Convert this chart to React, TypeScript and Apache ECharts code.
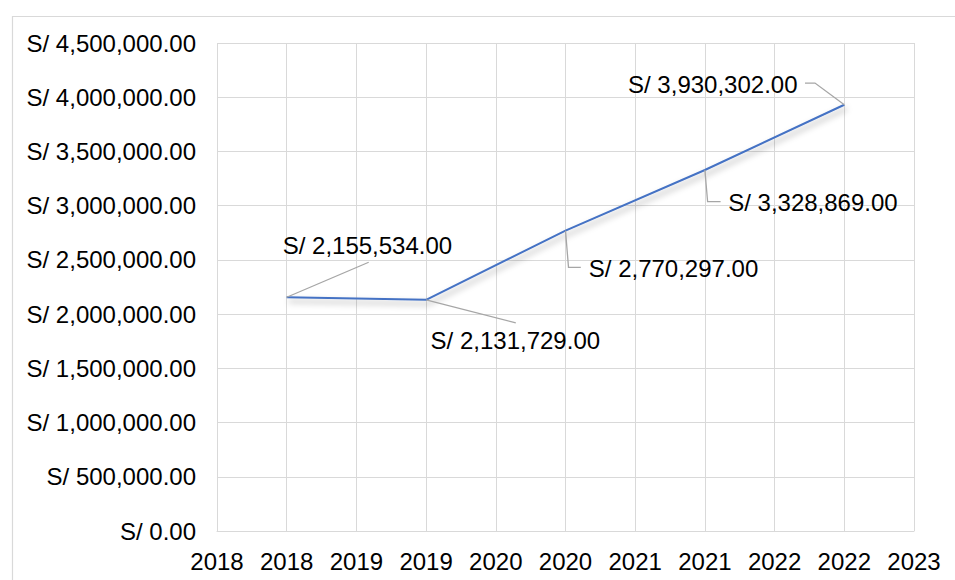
import React, { useEffect, useRef } from "react";
import * as echarts from "echarts";

// ---- data ----
const years: number[] = [2018, 2019, 2020, 2021, 2022];
const amounts: number[] = [2155534, 2131729, 2770297, 3328869, 3930302];

// ---- axis ----
const yMin = 0;
const yMax = 4500000;
const yStep = 500000;
const xMin = 2017.5;
const xMax = 2022.5;
const xStep = 0.5;

// ---- label layout (offsets relative to each point, in px) ----
const labelLayouts = [
  { tx: -4, ty: -52, align: "left", leader: [[0, 0], [82, -35]] },
  { tx: 4.5, ty: 41, align: "left", leader: [[0, 0], [89.7, 23]] },
  { tx: 23.3, ty: 37.7, align: "left", leader: [[0, 0], [3, 36.7], [15.3, 36.7]] },
  { tx: 23.3, ty: 32.2, align: "left", leader: [[0, 0], [2.7, 31.6], [15.7, 31.6]] },
  { tx: -46.8, ty: -20, align: "right", leader: [[0, 0], [-29.3, -21.7], [-39.3, -21.7]] },
];

const FONT = "'Liberation Sans', Arial, Helvetica, sans-serif";

const money = (v: number) =>
  "S/ " + v.toLocaleString("en-US", { minimumFractionDigits: 2, maximumFractionDigits: 2 });

export default function App() {
  const ref = useRef<HTMLDivElement>(null);

  useEffect(() => {
    if (!ref.current) return;
    const chart = echarts.init(ref.current, undefined, { renderer: "svg" });
    const points = years.map((y, i) => [y, amounts[i]]);

    chart.setOption({
      animation: false,
      backgroundColor: "#ffffff",
      textStyle: { fontFamily: FONT },
      graphic: [
        {
          type: "rect",
          left: 10,
          top: 14,
          z: -10,
          shape: { x: 0.5, y: 0.5, width: 2000, height: 2000 },
          style: { fill: "none", stroke: "#d9d9d9", lineWidth: 1.2 },
          silent: true,
        },
      ],
      grid: { left: 217, right: 41, top: 43, bottom: 49, containLabel: false },
      xAxis: {
        type: "value",
        min: xMin,
        max: xMax,
        interval: xStep,
        axisLine: { show: true, lineStyle: { color: "#d9d9d9", width: 1 } },
        axisTick: { show: false },
        splitLine: { show: true, lineStyle: { color: "#d9d9d9", width: 1 } },
        axisLabel: {
          color: "#000",
          fontSize: 24,
          fontFamily: FONT,
          margin: 18,
          formatter: (v: number) => String(Math.ceil(v - 1e-9)),
        },
      },
      yAxis: {
        type: "value",
        min: yMin,
        max: yMax,
        interval: yStep,
        axisLine: { show: false },
        axisTick: { show: false },
        splitLine: { show: true, lineStyle: { color: "#d9d9d9", width: 1 } },
        axisLabel: {
          color: "#000",
          fontSize: 24,
          fontFamily: FONT,
          margin: 21,
          formatter: (v: number) => money(v),
        },
      },
      series: [
        {
          type: "line",
          data: points,
          symbol: "none",
          lineStyle: {
            color: "#4472C4",
            width: 2,
            shadowColor: "rgba(0,0,0,0.35)",
            shadowBlur: 6,
            shadowOffsetX: 2,
            shadowOffsetY: 4,
          },
          z: 3,
        },
        {
          type: "custom",
          coordinateSystem: "cartesian2d",
          data: points,
          z: 4,
          renderItem: (params: any, api: any) => {
            const idx = params.dataIndex;
            const p = api.coord([api.value(0), api.value(1)]);
            const L = labelLayouts[idx];
            return {
              type: "group",
              children: [
                {
                  type: "polyline",
                  shape: { points: L.leader.map(([a, b]) => [p[0] + a, p[1] + b]) },
                  style: { stroke: "#a6a6a6", lineWidth: 1.3, fill: null },
                },
                {
                  type: "text",
                  x: p[0] + L.tx,
                  y: p[1] + L.ty,
                  style: {
                    text: money(api.value(1)),
                    fill: "#000",
                    font: `24px ${FONT}`,
                    textAlign: L.align,
                    textVerticalAlign: "middle",
                  },
                },
              ],
            };
          },
        },
      ],
    });

    return () => chart.dispose();
  }, []);

  return (
    <div
      ref={ref}
      style={{ position: "absolute", left: 0, top: 0, width: 955, height: 580, background: "#fff" }}
    />
  );
}
